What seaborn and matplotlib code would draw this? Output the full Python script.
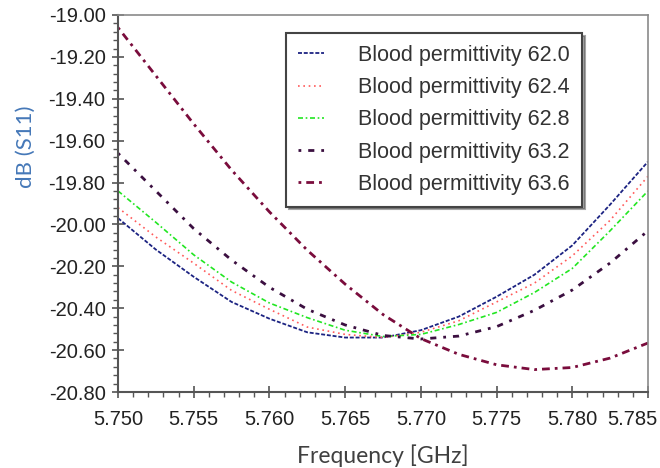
import matplotlib
matplotlib.use("Agg")
import matplotlib.pyplot as plt
import matplotlib.transforms as mtransforms
import seaborn as sns
import pandas as pd
from matplotlib.ticker import MultipleLocator, FormatStrFormatter

# ---- data ----
freq = [5.7500, 5.7525, 5.7550, 5.7575, 5.7600, 5.7625, 5.7650, 5.7675,
        5.7700, 5.7725, 5.7750, 5.7775, 5.7800, 5.7825, 5.7850]
s11_620 = [-19.97, -20.12, -20.25, -20.37, -20.45, -20.515, -20.54, -20.54,
           -20.505, -20.44, -20.345, -20.24, -20.10, -19.905, -19.70]
s11_624 = [-19.92, -20.06, -20.185, -20.315, -20.405, -20.49, -20.525, -20.54,
           -20.515, -20.46, -20.37, -20.28, -20.15, -19.98, -19.77]
s11_628 = [-19.84, -19.99, -20.145, -20.275, -20.375, -20.445, -20.505, -20.535,
           -20.525, -20.478, -20.42, -20.325, -20.21, -20.03, -19.84]
s11_632 = [-19.66, -19.84, -20.02, -20.17, -20.30, -20.405, -20.48, -20.53,
           -20.547, -20.533, -20.488, -20.41, -20.313, -20.184, -20.03]
s11_636 = [-19.06, -19.29, -19.52, -19.74, -19.94, -20.123, -20.285, -20.43,
           -20.545, -20.62, -20.67, -20.693, -20.683, -20.638, -20.566]
labels = ["Blood permittivity 62.0", "Blood permittivity 62.4",
          "Blood permittivity 62.8", "Blood permittivity 63.2",
          "Blood permittivity 63.6"]
series = [s11_620, s11_624, s11_628, s11_632, s11_636]
x_ticks = [5.750, 5.755, 5.760, 5.765, 5.770, 5.775, 5.780, 5.785]
y_ticks = [-20.80, -20.60, -20.40, -20.20, -20.00, -19.80, -19.60, -19.40, -19.20, -19.00]

# ---- styles ----
colors = ["#1c2382", "#ff5a5a", "#22e622", "#3b0f40", "#7a0c3c"]
dash_styles = [(0, (2.2, 1.0)), (0, (1.0, 2.2)), (0, (3.0, 1.6, 1.0, 1.6)),
               (0, (1.0, 2.5, 2.2, 2.5)), (0, (1.0, 1.8, 2.8, 1.8))]
widths = [1.3, 1.2, 1.2, 2.0, 2.0]

sns.set_style("white")
plt.rcParams['font.family'] = ['Liberation Sans', 'DejaVu Sans']

fig = plt.figure(figsize=(6.6, 4.68), dpi=100)
ax = fig.add_axes([118/660, 1-392/468, (648-118)/660, (392-15)/468])

for lab, vals, c, ls, lw in zip(labels, series, colors, dash_styles, widths):
    df = pd.DataFrame({"f": freq, "v": vals})
    sns.lineplot(data=df, x="f", y="v", ax=ax, color=c, linestyle=ls,
                 linewidth=lw, label=lab, legend=False)

ax.set_xlim(5.750, 5.785)
ax.set_ylim(-20.80, -19.00)
ax.set_xticks(x_ticks)
ax.set_yticks(y_ticks)
ax.xaxis.set_major_formatter(FormatStrFormatter('%.3f'))
ax.yaxis.set_major_formatter(FormatStrFormatter('%.2f'))
ax.xaxis.set_minor_locator(MultipleLocator(0.001))
ax.yaxis.set_minor_locator(MultipleLocator(0.04))
ax.tick_params(axis='both', which='both', bottom=True, left=True, top=False, right=False)
ax.tick_params(axis='both', which='major', direction='inout', length=8,
               width=1.2, color='#555555', labelsize=14.5, labelcolor='#222222')
ax.tick_params(axis='x', which='major', pad=9)
ax.tick_params(axis='y', which='major', pad=5)
ax.tick_params(axis='both', which='minor', direction='out', length=3.5,
               width=1.0, color='#555555')

fig.canvas.draw()
last = ax.get_xticklabels()[-1]
last.set_horizontalalignment('right')
last.set_transform(last.get_transform() +
                   mtransforms.ScaledTranslation(10/100, 0, fig.dpi_scale_trans))

for side in ['left', 'bottom']:
    ax.spines[side].set_color('#555555')
    ax.spines[side].set_linewidth(1.5)
for side in ['top', 'right']:
    ax.spines[side].set_color('#8a8a8a')
    ax.spines[side].set_linewidth(1.2)

ax.set_xlabel("Frequency [GHz]", family=['Lato', 'DejaVu Sans'], fontsize=16.5,
              color='#404040', labelpad=11)
ax.set_ylabel("dB (S11)", family=['Lato', 'DejaVu Sans'], fontsize=16,
              color='#4578b8')
ax.yaxis.set_label_coords(-0.155, 0.65)

leg = ax.legend(loc='upper right', bbox_to_anchor=(0.875, 0.952),
                borderaxespad=0, fancybox=False, shadow=True, frameon=True,
                fontsize=15.5, handlelength=1.2, handletextpad=1.6,
                labelspacing=0.52, borderpad=0.55, framealpha=1)
leg.get_frame().set_edgecolor('#444444')
leg.get_frame().set_linewidth(1.5)
for t in leg.get_texts():
    t.set_color('#333333')

fig.savefig("out.png", dpi=100)
